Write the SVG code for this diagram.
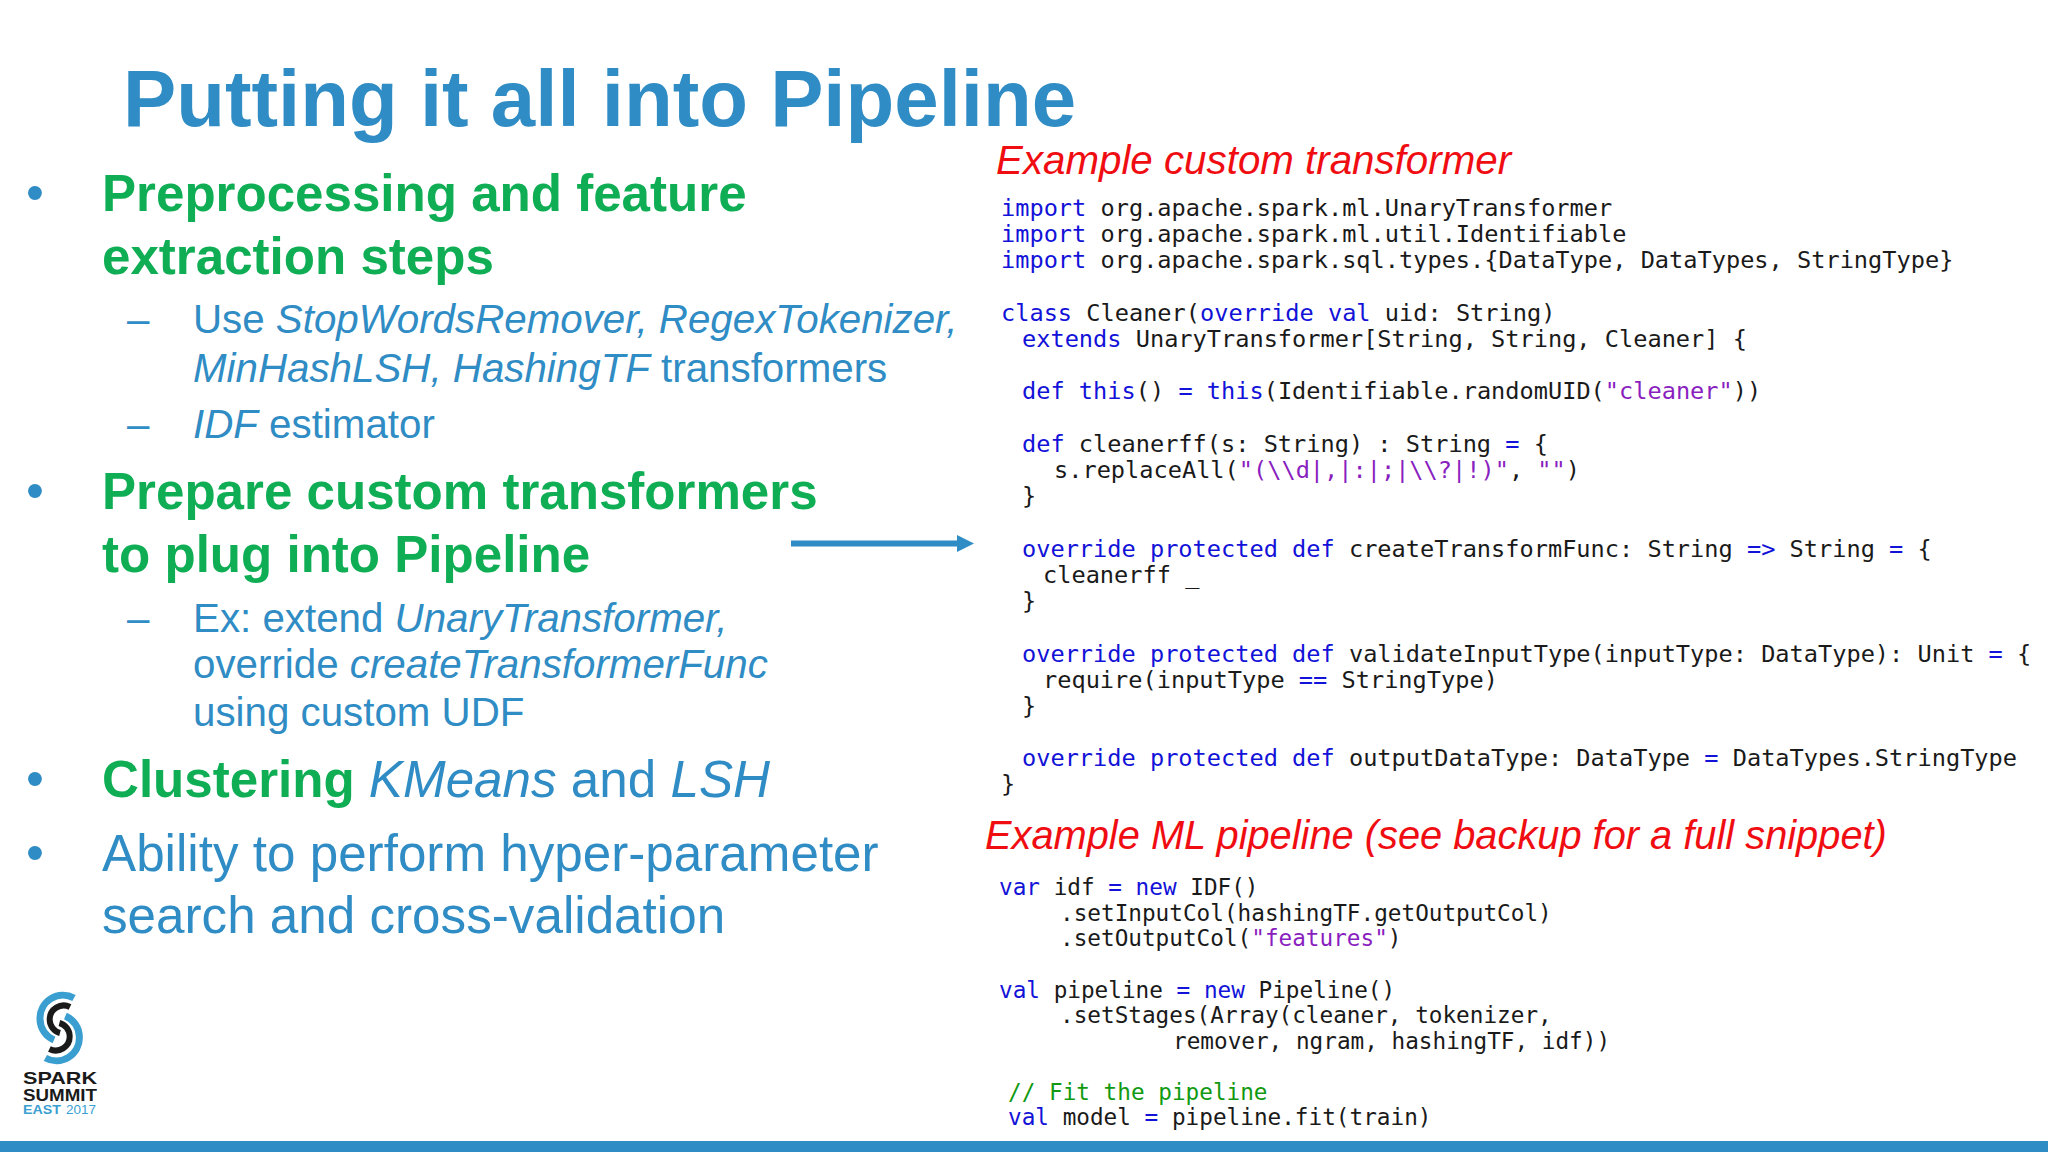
<svg xmlns="http://www.w3.org/2000/svg" width="2048" height="1152" viewBox="0 0 2048 1152">
<style>
text{font-family:"Liberation Sans",Arial,sans-serif;white-space:pre}
.t{font-size:79.800px;font-weight:700;fill:#2f8cc4}
.h{font-size:51.100px;font-weight:700;fill:#0fae55}
.b{font-size:51.200px;fill:#2f8cc4}
.s{font-size:40.300px;fill:#2f8cc4}
.r{font-size:40.300px;font-style:italic;fill:#f00d12}
.r2{font-size:39.800px}
.i{font-style:italic}
.n{font-weight:400;font-size:51.200px;fill:#2f8cc4}
.m{font-family:"DejaVu Sans Mono","Liberation Mono",monospace;fill:#1a1a1a}
.a{font-size:23.620px}
.c{font-size:22.700px}
.k{fill:#1212d8}
.q{fill:#8a1fc0}
.g{fill:#119a11}
.ab{fill:none;stroke:#3a9fd0;stroke-width:7}
.ak{fill:none;stroke:#1a1a1a;stroke-width:6}
.lt{font-size:17px;font-weight:700;fill:#1a1a1a}
.le{font-size:13px;fill:#3a9fd0}
</style>
<defs><filter id="sh" x="-10%" y="-200%" width="120%" height="500%"><feGaussianBlur stdDeviation="2.500"/></filter></defs>
<rect width="2048" height="1152" fill="#fff"/>
<rect y="1141" width="2048" height="11" fill="#2f8cc4"/>
<text class="t" x="123" y="126">Putting it all into Pipeline</text>
<g id="left">
<text class="b" x="26" y="210">•</text><text class="h" x="102" y="211">Preprocessing and feature</text><text class="h" x="102" y="274">extraction steps</text>
<text class="s" x="127" y="333">–</text><text class="s" x="193" y="333">Use <tspan class="i">StopWordsRemover, RegexTokenizer,</tspan></text>
<text class="s" x="193" y="382"><tspan class="i">MinHashLSH, HashingTF</tspan> transformers</text>
<text class="s" x="127" y="438">–</text><text class="s" x="193" y="438"><tspan class="i">IDF</tspan> estimator</text>
<text class="b" x="26" y="508">•</text><text class="h" x="102" y="509">Prepare custom transformers</text><text class="h" x="102" y="572">to plug into Pipeline</text>
<text class="s" x="127" y="632">–</text><text class="s" x="193" y="632">Ex: extend <tspan class="i">UnaryTransformer,</tspan></text>
<text class="s" x="193" y="678">override <tspan class="i">createTransformerFunc</tspan></text>
<text class="s" x="193" y="726">using custom UDF</text>
<text class="b" x="26" y="796">•</text><text class="h" x="102" y="797">Clustering <tspan class="i n">KMeans</tspan> <tspan class="n">and</tspan> <tspan class="i n">LSH</tspan></text>
<text class="b" x="26" y="870">•</text><text class="b" x="102" y="871">Ability to perform hyper-parameter</text><text class="b" x="102" y="933">search and cross-validation</text>
</g>
<g id="connectors">
<path d="M791 547H958" stroke="#888" stroke-width="6" opacity=".5" filter="url(#sh)"/>
<path d="M791 543.500H958" stroke="#2f8cc4" stroke-width="6" fill="none"/>
<path d="M957 535L974 543.500L957 552Z" fill="#2f8cc4"/>
</g>
<g id="code-top">
<text class="r" x="996" y="174">Example custom transformer</text>
<text class="m a" x="1001" y="216"><tspan class="k">import</tspan> org.apache.spark.ml.UnaryTransformer</text>
<text class="m a" x="1001" y="242"><tspan class="k">import</tspan> org.apache.spark.ml.util.Identifiable</text>
<text class="m a" x="1001" y="268"><tspan class="k">import</tspan> org.apache.spark.sql.types.{DataType, DataTypes, StringType}</text>
<text class="m a" x="1001" y="321"><tspan class="k">class</tspan> Cleaner(<tspan class="k">override val</tspan> uid: String)</text>
<text class="m a" x="1022" y="347"><tspan class="k">extends</tspan> UnaryTransformer[String, String, Cleaner] {</text>
<text class="m a" x="1022" y="399"><tspan class="k">def this</tspan>() <tspan class="k">=</tspan> <tspan class="k">this</tspan>(Identifiable.randomUID(<tspan class="q">"cleaner"</tspan>))</text>
<text class="m a" x="1022" y="452"><tspan class="k">def</tspan> cleanerff(s: String) : String <tspan class="k">=</tspan> {</text>
<text class="m a" x="1054" y="478"><tspan>s.replaceAll(</tspan><tspan class="q">"(\\d|,|:|;|\\?|!)"</tspan>, <tspan class="q">""</tspan>)</text>
<text class="m a" x="1022" y="504">}</text>
<text class="m a" x="1022" y="557"><tspan class="k">override protected def</tspan> createTransformFunc: String <tspan class="k">=&gt;</tspan> String <tspan class="k">=</tspan> {</text>
<text class="m a" x="1043" y="583">cleanerff _</text>
<text class="m a" x="1022" y="609">}</text>
<text class="m a" x="1022" y="661.500"><tspan class="k">override protected def</tspan> validateInputType(inputType: DataType): Unit <tspan class="k">=</tspan> {</text>
<text class="m a" x="1043" y="688">require(inputType <tspan class="k">==</tspan> StringType)</text>
<text class="m a" x="1022" y="714">}</text>
<text class="m a" x="1022" y="766"><tspan class="k">override protected def</tspan> outputDataType: DataType <tspan class="k">=</tspan> DataTypes.StringType</text>
<text class="m a" x="1001" y="792">}</text>
</g>
<g id="code-bottom">
<text class="r r2" x="985" y="849">Example ML pipeline (see backup for a full snippet)</text>
<text class="m c" x="999" y="895"><tspan class="k">var</tspan> idf <tspan class="k">= new</tspan> IDF()</text>
<text class="m c" x="1060" y="921">.setInputCol(hashingTF.getOutputCol)</text>
<text class="m c" x="1060" y="946">.setOutputCol(<tspan class="q">"features"</tspan>)</text>
<text class="m c" x="999" y="998"><tspan class="k">val</tspan> pipeline <tspan class="k">= new</tspan> Pipeline()</text>
<text class="m c" x="1060" y="1023">.setStages(Array(cleaner, tokenizer,</text>
<text class="m c" x="1173" y="1049">remover, ngram, hashingTF, idf))</text>
<text class="m c g" x="1008" y="1100">// Fit the pipeline</text>
<text class="m c" x="1008" y="1125"><tspan class="k">val</tspan> model <tspan class="k">=</tspan> pipeline.fit(train)</text>
</g>
<g id="logo">
<path class="ab" d="M74 998A23 23 0 0 0 40 1019A23 23 0 0 0 54 1040"/>
<path class="ab" d="M65.400 1016A23 23 0 0 1 79.400 1037A23 23 0 0 1 45.400 1058"/>
<path class="ak" d="M70 1007A14 14 0 0 0 49.700 1019.700A14 14 0 0 0 60 1033"/>
<path class="ak" d="M59.400 1023A14 14 0 0 1 69.700 1036.300A14 14 0 0 1 49.400 1049"/>
<text class="lt" x="23" y="1084" textLength="74" lengthAdjust="spacingAndGlyphs">SPARK</text>
<text class="lt" x="23" y="1100.500" textLength="74" lengthAdjust="spacingAndGlyphs">SUMMIT</text>
<text class="le" x="23" y="1114" font-weight="700" textLength="38" lengthAdjust="spacingAndGlyphs">EAST</text>
<text class="le" x="66" y="1114" textLength="30" lengthAdjust="spacingAndGlyphs">2017</text>
</g>
</svg>
